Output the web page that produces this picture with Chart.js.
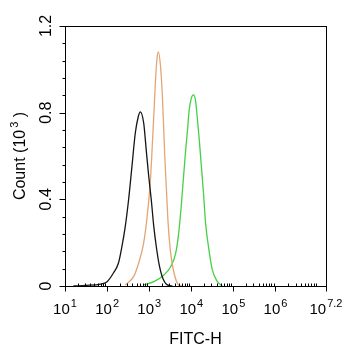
<!DOCTYPE html>
<html>
<head>
<meta charset="utf-8">
<script src="https://cdn.jsdelivr.net/npm/chart.js@4/dist/chart.umd.min.js"></script>
<style>
  html, body { margin: 0; padding: 0; background: #fff; }
  #wrap { width: 342px; height: 350px; }
</style>
</head>
<body>
<div id="wrap"><canvas id="hist" width="342" height="350"></canvas></div>
<script>
// Histogram traces: x is log10(FITC-H), y is count in thousands
const blackX = [1.20, 1.50, 1.84, 2.00, 2.15, 2.27, 2.35, 2.43, 2.51, 2.59, 2.67, 2.74, 2.79, 2.87, 2.93, 2.99, 3.05, 3.11, 3.17, 3.23, 3.31, 3.43, 3.55];
const blackY = [0.000, 0.003, 0.009, 0.020, 0.060, 0.106, 0.180, 0.273, 0.397, 0.551, 0.706, 0.781, 0.804, 0.751, 0.627, 0.504, 0.397, 0.273, 0.180, 0.106, 0.043, 0.005, 0.000];

const orangeX = [2.43, 2.63, 2.75, 2.87, 2.96, 3.03, 3.08, 3.12, 3.15, 3.19, 3.22, 3.27, 3.31, 3.34, 3.37, 3.41, 3.45, 3.51, 3.59, 3.70, 3.80];
const orangeY = [0.005, 0.043, 0.106, 0.200, 0.337, 0.490, 0.674, 0.828, 0.951, 1.058, 1.081, 1.012, 0.889, 0.751, 0.600, 0.443, 0.289, 0.152, 0.060, 0.005, 0.000];

const greenX = [2.87, 3.11, 3.35, 3.51, 3.63, 3.70, 3.76, 3.81, 3.86, 3.91, 3.95, 4.00, 4.05, 4.10, 4.14, 4.19, 4.24, 4.29, 4.34, 4.42, 4.50, 4.62, 4.74];
const greenY = [0.005, 0.020, 0.051, 0.089, 0.152, 0.243, 0.367, 0.489, 0.612, 0.720, 0.812, 0.866, 0.882, 0.858, 0.781, 0.674, 0.551, 0.428, 0.289, 0.166, 0.074, 0.020, 0.000];

// Axis ticks
const xTickValues = [1, 2, 3, 4, 5, 6, 7.2];
const xTickExponents = ['1', '2', '3', '4', '5', '6', '7.2'];
const yTickValues = [0, 0.4, 0.8, 1.2];
const yTickLabels = ['0', '0.4', '0.8', '1.2'];
const yMinorStep = 0.08;

const FONT = '"Liberation Sans", Arial, Helvetica, sans-serif';

function pts(xs, ys) { return xs.map((x, i) => ({ x: x, y: ys[i] })); }

// Frame, ticks and labels in the flow-cytometry style
const axesPlugin = {
  id: 'cytoAxes',
  afterDraw(chart) {
    const ctx = chart.ctx;
    const a = chart.chartArea;
    const xs = chart.scales.x, ys = chart.scales.y;
    ctx.save();
    ctx.strokeStyle = '#000';
    ctx.fillStyle = '#000';
    ctx.lineWidth = 1;
    const L = Math.round(a.left) + 0.5, R = Math.round(a.right) + 0.5;
    const T = Math.round(a.top) + 0.5, B = Math.round(a.bottom) + 0.5;
    ctx.strokeRect(L, T, R - L, B - T);

    ctx.beginPath();
    // x major ticks (down) and minor log ticks (up)
    xTickValues.forEach(v => {
      const px = Math.round(xs.getPixelForValue(v)) + 0.5;
      ctx.moveTo(px, B); ctx.lineTo(px, B + 5);
    });
    for (let d = 1; d < 7.2; d++) {
      for (let k = 2; k <= 9; k++) {
        const v = d + Math.log10(k);
        if (v >= 7.2) break;
        const px = Math.round(xs.getPixelForValue(v)) + 0.5;
        ctx.moveTo(px, B); ctx.lineTo(px, B - 3);
      }
    }
    // y major and minor ticks (left)
    yTickValues.forEach(v => {
      const py = Math.round(ys.getPixelForValue(v)) + 0.5;
      ctx.moveTo(L, py); ctx.lineTo(L - 6, py);
    });
    for (let i = 0; i * yMinorStep <= 1.2 + 1e-9; i++) {
      const py = Math.round(ys.getPixelForValue(i * yMinorStep)) + 0.5;
      ctx.moveTo(L, py); ctx.lineTo(L - 3, py);
    }
    ctx.stroke();

    // x tick labels: 10 with superscript exponent
    ctx.textBaseline = 'alphabetic';
    ctx.textAlign = 'left';
    const baseFont = '15px ' + FONT, supFont = '11px ' + FONT;
    xTickValues.forEach((v, i) => {
      const px = xs.getPixelForValue(v);
      ctx.font = baseFont;
      const w1 = ctx.measureText('10').width;
      ctx.font = supFont;
      const w2 = ctx.measureText(xTickExponents[i]).width;
      const x0 = px - (w1 + 1 + w2) / 2;
      ctx.font = baseFont;
      ctx.fillText('10', x0, 313.5);
      ctx.font = supFont;
      ctx.fillText(xTickExponents[i], x0 + w1 + 1, 306.5);
    });

    // x axis title
    ctx.font = '16px ' + FONT;
    ctx.textAlign = 'center';
    ctx.fillText('FITC-H', (a.left + a.right) / 2, 344);

    // y tick labels, rotated
    yTickValues.forEach((v, i) => {
      const py = ys.getPixelForValue(v);
      ctx.save();
      ctx.translate(50.5, py);
      ctx.rotate(-Math.PI / 2);
      ctx.font = '16px ' + FONT;
      ctx.textAlign = 'center';
      ctx.fillText(yTickLabels[i], 0, 0);
      ctx.restore();
    });

    // y axis title: Count (10^3)
    ctx.save();
    ctx.translate(25, (a.top + a.bottom) / 2);
    ctx.rotate(-Math.PI / 2);
    ctx.textAlign = 'left';
    ctx.font = '16px ' + FONT;
    const p1 = 'Count (10', p3 = ' )';
    const w1 = ctx.measureText(p1).width;
    const w3 = ctx.measureText(p3).width;
    ctx.font = '11px ' + FONT;
    const w2 = ctx.measureText('3').width;
    const total = w1 + 2 + w2 + w3;
    let cx = -total / 2;
    ctx.font = '16px ' + FONT;
    ctx.fillText(p1, cx, 0);
    cx += w1 + 2;
    ctx.font = '11px ' + FONT;
    ctx.fillText('3', cx, -7);
    cx += w2;
    ctx.font = '16px ' + FONT;
    ctx.fillText(p3, cx, 0);
    ctx.restore();

    ctx.restore();
  }
};

const lineStyle = {
  fill: false,
  pointRadius: 0,
  borderWidth: 1.3,
  cubicInterpolationMode: 'monotone'
};

new Chart(document.getElementById('hist'), {
  type: 'line',
  data: {
    datasets: [
      Object.assign({ data: pts(blackX, blackY), borderColor: '#151515' }, lineStyle),
      Object.assign({ data: pts(orangeX, orangeY), borderColor: '#e2a676' }, lineStyle),
      Object.assign({ data: pts(greenX, greenY), borderColor: '#46d046' }, lineStyle)
    ]
  },
  options: {
    responsive: false,
    animation: false,
    layout: { padding: { left: 65, right: 16, top: 26, bottom: 64 } },
    plugins: { legend: { display: false }, tooltip: { enabled: false } },
    scales: {
      x: { type: 'linear', min: 1, max: 7.2, display: false },
      y: { type: 'linear', min: 0, max: 1.2, display: false }
    }
  },
  plugins: [axesPlugin]
});
</script>
</body>
</html>
